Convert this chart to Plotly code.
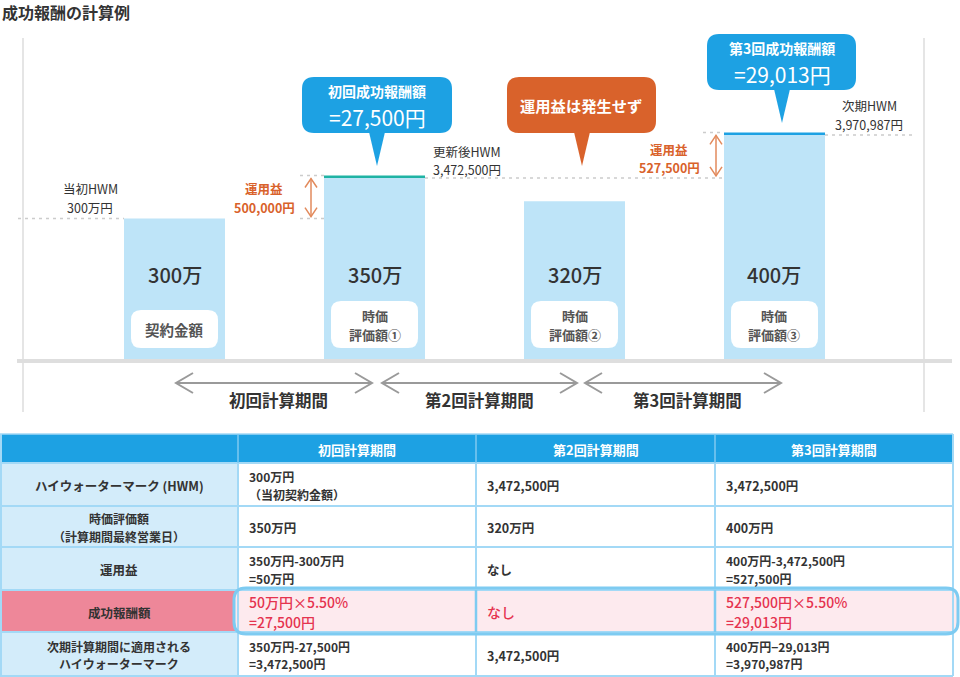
import plotly.graph_objects as go

# ---------------- data ----------------
categories = ["契約金額", "時価評価額①", "時価評価額②", "時価評価額③"]
box_lines = [["契約金額"], ["時価", "評価額①"], ["時価", "評価額②"], ["時価", "評価額③"]]
values_man = [300, 350, 320, 400]          # 万円
fees_yen = [0, 27500, 0, 29013]            # 成功報酬額
fee_titles = ["", "初回成功報酬額", "", "第3回成功報酬額"]
periods = ["初回計算期間", "第2回計算期間", "第3回計算期間"]
no_profit_text = "運用益は発生せず"

table_header = ["", "初回計算期間", "第2回計算期間", "第3回計算期間"]
table_rows = [
    (["ハイウォーターマーク (HWM)"], [["300万円", "（当初契約金額）"], ["3,472,500円"], ["3,472,500円"]]),
    (["時価評価額", "（計算期間最終営業日）"], [["350万円"], ["320万円"], ["400万円"]]),
    (["運用益"], [["350万円-300万円", "=50万円"], ["なし"], ["400万円-3,472,500円", "=527,500円"]]),
    (["成功報酬額"], [["50万円×5.50%", "=27,500円"], ["なし"], ["527,500円×5.50%", "=29,013円"]]),
    (["次期計算期間に適用される", "ハイウォーターマーク"], [["350万円-27,500円", "=3,472,500円"], ["3,472,500円"], ["400万円−29,013円", "=3,970,987円"]]),
]
highlight_row = 3

# derived
hwm_after_yen = [v * 10000 - f for v, f in zip(values_man, fees_yen)]
base_man = [v - f / 10000 for v, f in zip(values_man, fees_yen)]
fee_man = [f / 10000 for f in fees_yen]

# ---------------- geometry helpers ----------------
W, H = 960, 677
FONT = "Noto Sans CJK JP, Noto Sans, sans-serif"
X_R0, X_R1 = -0.8725, 3.9275
Y_R0, Y_R1 = 135.9, 553.7
PLOT_BOTTOM = 360.0
LS = 1.47  # line pitch (em) so that line boxes do not overlap


def vy(v):
    return (Y_R1 - v) / (Y_R1 - Y_R0) * PLOT_BOTTOM


def cx(i):
    return (i - X_R0) / (X_R1 - X_R0) * W


def X(x):
    return x / W


def Y(y):
    return 1 - y / H


shapes = []
annotations = []


def line(x0, y0, x1, y1, color, width, dash=None):
    d = dict(type="line", xref="paper", yref="paper", x0=X(x0), y0=Y(y0), x1=X(x1), y1=Y(y1),
             line=dict(color=color, width=width))
    if dash:
        d["line"]["dash"] = dash
    shapes.append(d)


def poly(pts, color, width, closed=False, fill=None):
    s = "M " + " L ".join(f"{X(x):.5f},{Y(y):.5f}" for x, y in pts)
    if closed:
        s += " Z"
    d = dict(type="path", xref="paper", yref="paper", path=s,
             line=dict(color=color, width=width))
    if fill:
        d["fillcolor"] = fill
    shapes.append(d)


def rrect(x0, y0, x1, y1, r, fill=None, lcolor=None, lwidth=0):
    p = lambda x, y: f"{X(x):.5f},{Y(y):.5f}"
    s = (f"M {p(x0 + r, y0)} L {p(x1 - r, y0)} Q {p(x1, y0)} {p(x1, y0 + r)} "
         f"L {p(x1, y1 - r)} Q {p(x1, y1)} {p(x1 - r, y1)} L {p(x0 + r, y1)} "
         f"Q {p(x0, y1)} {p(x0, y1 - r)} L {p(x0, y0 + r)} Q {p(x0, y0)} {p(x0 + r, y0)} Z")
    d = dict(type="path", xref="paper", yref="paper", path=s,
             line=dict(color=lcolor if lcolor else "rgba(0,0,0,0)", width=lwidth))
    d["fillcolor"] = fill if fill else "rgba(0,0,0,0)"
    shapes.append(d)


def rect(x0, y0, x1, y1, fill):
    shapes.append(dict(type="rect", xref="paper", yref="paper", x0=X(x0), y0=Y(y0), x1=X(x1), y1=Y(y1),
                       fillcolor=fill, line=dict(width=0)))


def text(x, y, s, size=12, color="#333333", bold=False, xanchor="center", weight=None):
    w = weight if weight is not None else (700 if bold else 400)
    annotations.append(dict(x=X(x), y=Y(y), xref="paper", yref="paper", text=s, showarrow=False,
                            xanchor=xanchor, yanchor="middle", borderpad=0,
                            font=dict(size=size, color=color, family=FONT, weight=w)))


def mtext(x, yc, lines_, size=12, **kw):
    pitch = LS * size
    n = len(lines_)
    for k, s in enumerate(lines_):
        text(x, yc + (k - (n - 1) / 2) * pitch, s, size=size, **kw)


def fmt_yen(v):
    return f"{int(round(v)):,}円"


# ---------------- bars ----------------
LIGHT = "#bee4f8"
fee_colors = ["rgba(0,0,0,0)", "#1fb3a4", "rgba(0,0,0,0)", "#1da1e3"]
xs = list(range(len(values_man)))
BAR_W = 101 * (X_R1 - X_R0) / W

fig = go.Figure()
fig.add_trace(go.Bar(x=xs, y=base_man, width=BAR_W, marker=dict(color=LIGHT, line=dict(width=0)),
                     hoverinfo="skip"))
fig.add_trace(go.Bar(x=xs, y=fee_man, base=base_man, width=BAR_W,
                     marker=dict(color=fee_colors, line=dict(width=0)), hoverinfo="skip"))

# ---------------- chart decorations ----------------
text(1, 12, "成功報酬の計算例", size=16, bold=True, xanchor="left")

# frame lines
line(23, 38, 23, 412, "#dddddd", 1.5)
line(924, 38, 924, 412, "#dddddd", 1.5)
line(17, 361, 952, 361, "#dedede", 4)

half = 50.5
dash = "3px,4px"
GD = "#cccccc"
y300 = vy(values_man[0])
line(18, y300, cx(0) - half, y300, GD, 1.5, dash)
line(300, y300, cx(1) - half, y300, GD, 1.5, dash)
line(300, vy(values_man[1]), cx(1) - half, vy(values_man[1]), GD, 1.5, dash)
y_h1 = vy(hwm_after_yen[1] / 10000)
line(cx(1) + half, y_h1, cx(3) - half - 2, y_h1, GD, 1.5, dash)
line(703, vy(values_man[3]), cx(3) - half, vy(values_man[3]), GD, 1.5, dash)
y_h3 = vy(hwm_after_yen[3] / 10000)
line(cx(3) + half, y_h3, 913, y_h3, GD, 1.5, dash)

# bar value labels and white boxes
for i, v in enumerate(values_man):
    c = cx(i)
    text(c, 274, f"{v}万", size=20, color="#333333", weight=500)
    lines_ = box_lines[i]
    if len(lines_) == 1:
        rrect(c - 43.5, 310, c + 43.5, 348, 10, fill="white")
        text(c, 329, lines_[0], size=14.5, color="#555555", bold=True)
    else:
        rrect(c - 43.5, 301, c + 43.5, 348, 10, fill="white")
        text(c, 315.5, lines_[0], size=13, color="#555555", bold=True)
        text(c, 334.5, lines_[1], size=13, color="#555555", bold=True)

# profit arrows (orange)
ORANGE = "#d9622b"
AR = "#e28a5c"


def varrow(x, ytop, ybot):
    line(x, ytop, x, ybot, AR, 1.5)
    poly([(x - 6, ytop + 9), (x, ytop), (x + 6, ytop + 9)], AR, 1.5)
    poly([(x - 6, ybot - 9), (x, ybot), (x + 6, ybot - 9)], AR, 1.5)


varrow(311, vy(values_man[1]) + 3, y300 - 2)
varrow(716, vy(values_man[3]) + 3, y_h1 - 2)

profit1 = values_man[1] * 10000 - values_man[0] * 10000
profit3 = values_man[3] * 10000 - hwm_after_yen[1]
mtext(264, 198, ["運用益", fmt_yen(profit1)], size=12.5, color=ORANGE, bold=True)
mtext(669, 158.5, ["運用益", fmt_yen(profit3)], size=12.5, color=ORANGE, bold=True)

# HWM labels
mtext(90, 198, ["当初HWM", f"{values_man[0]}万円"], size=12.5)
mtext(432, 160.5, ["更新後HWM", fmt_yen(hwm_after_yen[1])], size=12.5, xanchor="left")
mtext(869, 115, ["次期HWM", fmt_yen(hwm_after_yen[3])], size=12.5)

# callouts
BLUE = "#1da1e3"


def callout(x0, y0, x1, y1, tipx, tipy, color):
    rrect(x0, y0, x1, y1, 12, fill=color)
    poly([(tipx - 8, y1 - 1), (tipx + 8, y1 - 1), (tipx, tipy)], color, 0, closed=True, fill=color)


def fee_text(x, ytop, title, fee):
    text(x, ytop + 14, title, size=14, color="white", bold=True)
    text(x, ytop + 39.6, "=" + fmt_yen(fee), size=21, color="white")


callout(302, 77, 452, 133, 377, 166, BLUE)
fee_text(377, 77, fee_titles[1], fees_yen[1])

callout(507, 77, 656, 133, 582, 166, ORANGE)
text(581, 105, no_profit_text, size=15.3, color="white", bold=True)

callout(707, 34, 856, 90, 782, 123, BLUE)
fee_text(782, 34, fee_titles[3], fees_yen[3])

# period arrows
GRAY = "#9a9a9a"
for (a, b), lab, lx in zip([(176, 372), (382, 577), (585, 781)], periods, [278, 479, 687]):
    line(a, 383, b, 383, GRAY, 2)
    poly([(a + 17, 373), (a, 383), (a + 17, 393)], GRAY, 2)
    poly([(b - 17, 373), (b, 383), (b - 17, 393)], GRAY, 2)
    text(lx, 400, lab, size=16.5, bold=True)

# ---------------- table ----------------
cols = [0, 238, 476, 715, 953]
rows = [434, 463, 506, 547, 590, 632, 676]
GRID = "#a3d9f6"
rect(0, rows[0], cols[-1], rows[1], BLUE)
for r in range(5):
    y0, y1 = rows[r + 1], rows[r + 2]
    rect(0, y0, cols[1], y1, "#ee8799" if r == highlight_row else "#d3ecfa")
    rect(cols[1], y0, cols[-1], y1, "white")

hy0, hy1 = rows[highlight_row + 1], rows[highlight_row + 2]
rrect(234, hy0 - 2, 958, hy1 + 2, 12, fill="#fdeaee")

for yv in rows[1:]:
    line(0, yv, cols[-1], yv, GRID, 2)
line(0, rows[0], cols[-1], rows[0], GRID, 1.5)
line(1, rows[0], 1, rows[-1], GRID, 2)
line(cols[-1], rows[0], cols[-1], rows[-1], GRID, 2)
for xv in cols[1:-1]:
    line(xv, rows[0], xv, rows[1], "#7fcaf0", 1.5)
    line(xv, rows[1], xv, rows[-1], GRID, 2)
rrect(234, hy0 - 2, 958, hy1 + 2, 12, lcolor="#7ecbf1", lwidth=3)
for xv in cols[2:-1]:
    line(xv, hy0, xv, hy1, "#7ecbf1", 2.5)

for j in range(1, 4):
    text((cols[j] + cols[j + 1]) / 2, 449, table_header[j], size=13, color="white", bold=True)

RED = "#e5334f"
for r, (label, cells) in enumerate(table_rows):
    y0, y1 = rows[r + 1], rows[r + 2]
    yc = (y0 + y1) / 2 + 1
    hl = r == highlight_row
    mtext(119, yc, label, size=12.5 if len(label) == 1 else 12, bold=True)
    for j, cell in enumerate(cells):
        x = cols[j + 1] + 10
        if hl:
            mtext(x, yc, cell, size=14, color=RED, weight=500, xanchor="left")
        else:
            mtext(x, yc, cell, size=12.5 if len(cell) == 1 else 12, color="#333333", bold=True,
                  xanchor="left")

fig.update_layout(
    width=W, height=H, margin=dict(l=0, r=0, t=0, b=0),
    paper_bgcolor="white", plot_bgcolor="white",
    showlegend=False, barmode="overlay",
    xaxis=dict(range=[X_R0, X_R1], domain=[0, 1], visible=False, fixedrange=True),
    yaxis=dict(range=[Y_R0, Y_R1], domain=[1 - PLOT_BOTTOM / H, 1], visible=False, fixedrange=True),
    shapes=shapes, annotations=annotations,
    font=dict(family=FONT),
)

fig.write_html("out.html")
